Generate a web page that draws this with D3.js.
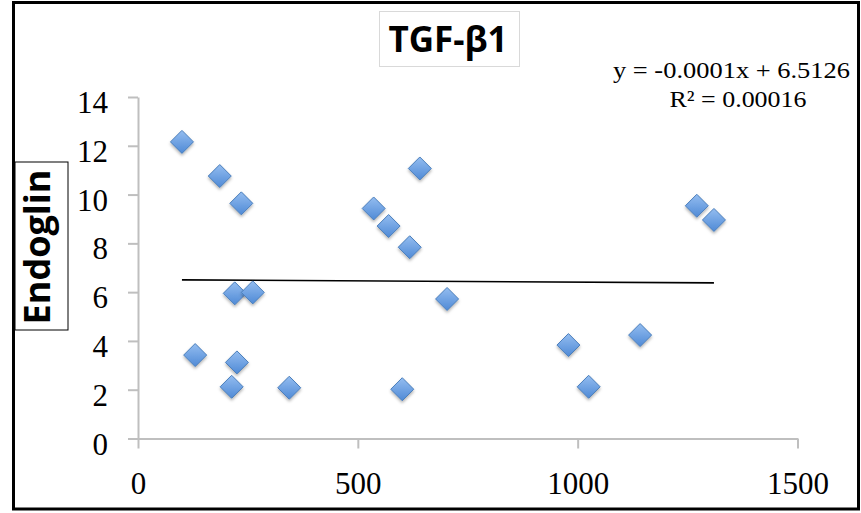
<!DOCTYPE html>
<html lang="en">
<head>
<meta charset="UTF-8"/>
<title>TGF-β1 vs Endoglin</title>
<script src="https://d3js.org/d3.v7.min.js"></script>
<style>
    body { margin: 0; background: #fff; }
    .tick text { font-family: "Liberation Serif", "Times New Roman", serif; font-size: 31px; fill: #000; }
    .axis path, .axis line { stroke: #bfbfbf; stroke-width: 2px; fill: none; }
</style>
</head>
<body>
<div id="chart"></div>
<script>
    // values
    var tgfValues = [100, 186, 235, 220, 261, 130, 225, 213, 344, 536, 570, 641, 618, 703, 601, 979, 1025, 1142, 1271, 1310];
    var endoglinValues = [12.16, 10.76, 9.64, 5.95, 5.99, 3.42, 3.12, 2.12, 2.08, 9.43, 8.71, 11.07, 7.84, 5.72, 2.02, 3.83, 2.12, 4.24, 9.54, 8.96];
    var xTicks = [0, 500, 1000, 1500];
    var yTicks = [0, 2, 4, 6, 8, 10, 12, 14];
    var slope = -0.0001, intercept = 6.5126;
    var titleText = "TGF-β1";
    var yLabel = "Endoglin";
    var eqLines = ["y = -0.0001x + 6.5126", "R² = 0.00016"];

    var W = 861, H = 513;
    var margin = {top: 97, right: 64, bottom: 74, left: 138},
        width = 797.5 - margin.left,
        height = 438.5 - margin.top;

    var svg = d3.select("#chart").append("svg")
        .attr("width", W).attr("height", H);

    var defs = svg.append("defs");
    var grad = defs.append("linearGradient").attr("id", "dia")
        .attr("x1", 0).attr("y1", 0).attr("x2", 0).attr("y2", 1);
    grad.append("stop").attr("offset", "0%").attr("stop-color", "#94bdf0");
    grad.append("stop").attr("offset", "100%").attr("stop-color", "#4f8ad6");
    var shadow = defs.append("filter").attr("id", "shadow")
        .attr("x", "-50%").attr("y", "-50%").attr("width", "200%").attr("height", "200%");
    shadow.append("feDropShadow").attr("dx", 0).attr("dy", 2).attr("stdDeviation", 1.5)
        .attr("flood-color", "#000").attr("flood-opacity", 0.3);

    // outer frame
    svg.append("rect")
        .attr("x", 13.5).attr("y", 2.5)
        .attr("width", 845).attr("height", 506.5)
        .attr("fill", "none").attr("stroke", "#000").attr("stroke-width", 3);

    var g = svg.append("g")
        .attr("transform", "translate(" + margin.left + "," + margin.top + ")");

    var x = d3.scaleLinear().domain([0, 1500]).range([0, width]);
    var y = d3.scaleLinear().domain([0, 14]).range([height, 0]);

    // x axis
    var xAxis = g.append("g").attr("class", "axis")
        .attr("transform", "translate(0," + height + ")")
        .call(d3.axisBottom(x).tickValues(xTicks).tickFormat(d3.format("d"))
            .tickSize(10).tickSizeOuter(0).tickPadding(23));
    xAxis.selectAll("text").attr("dy", "0.71em");

    // y axis
    var yAxis = g.append("g").attr("class", "axis")
        .call(d3.axisLeft(y).tickValues(yTicks).tickSize(10).tickSizeOuter(0).tickPadding(20));
    yAxis.selectAll("text").attr("dy", "0.5em");

    // trend line
    var xMin = d3.min(tgfValues), xMax = d3.max(tgfValues);
    g.append("line")
        .attr("x1", x(xMin)).attr("y1", y(slope * xMin + intercept))
        .attr("x2", x(xMax)).attr("y2", y(slope * xMax + intercept))
        .attr("stroke", "#000").attr("stroke-width", 1.6);

    // points
    var pts = tgfValues.map(function (d, i) { return {x: d, y: endoglinValues[i]}; });
    var r = 11.5;
    g.selectAll("path.pt")
        .data(pts)
        .enter()
        .append("path")
        .attr("class", "pt")
        .attr("d", "M0," + (-r) + "L" + r + ",0L0," + r + "L" + (-r) + ",0Z")
        .attr("transform", function (d) { return "translate(" + x(d.x) + "," + y(d.y) + ")"; })
        .attr("fill", "url(#dia)")
        .attr("stroke", "#4a7ebb")
        .attr("stroke-width", 1)
        .attr("filter", "url(#shadow)");

    // title
    svg.append("rect")
        .attr("x", 379.5).attr("y", 11.5).attr("width", 140).attr("height", 55)
        .attr("fill", "#fff").attr("stroke", "#d9d9d9").attr("stroke-width", 1);
    svg.append("text")
        .attr("x", 448).attr("y", 52)
        .attr("text-anchor", "middle")
        .style("font-family", "'Open Sans', sans-serif")
        .style("font-weight", "bold")
        .style("font-size", "35px")
        .text(titleText);

    // y label
    svg.append("rect")
        .attr("x", 15).attr("y", 162).attr("width", 53).attr("height", 168)
        .attr("fill", "#fff").attr("stroke", "#000").attr("stroke-width", 1);
    svg.append("text")
        .attr("transform", "translate(50,247) rotate(-90)")
        .attr("text-anchor", "middle")
        .style("font-family", "'Open Sans', sans-serif")
        .style("font-weight", "bold")
        .style("font-size", "36px")
        .text(yLabel);

    // equation (stretched a little, as in the original)
    var eqWidth = [237, 137], eqCenter = [731.5, 738];
    svg.selectAll("text.eq")
        .data(eqLines)
        .enter()
        .append("text")
        .attr("class", "eq")
        .attr("x", function (d, i) { return eqCenter[i]; })
        .attr("y", function (d, i) { return 78 + i * 28.5; })
        .attr("text-anchor", "middle")
        .attr("textLength", function (d, i) { return eqWidth[i]; })
        .attr("lengthAdjust", "spacingAndGlyphs")
        .style("font-family", "'Liberation Serif', 'Times New Roman', serif")
        .style("font-size", "23px")
        .text(function (d) { return d; });
</script>
</body>
</html>
